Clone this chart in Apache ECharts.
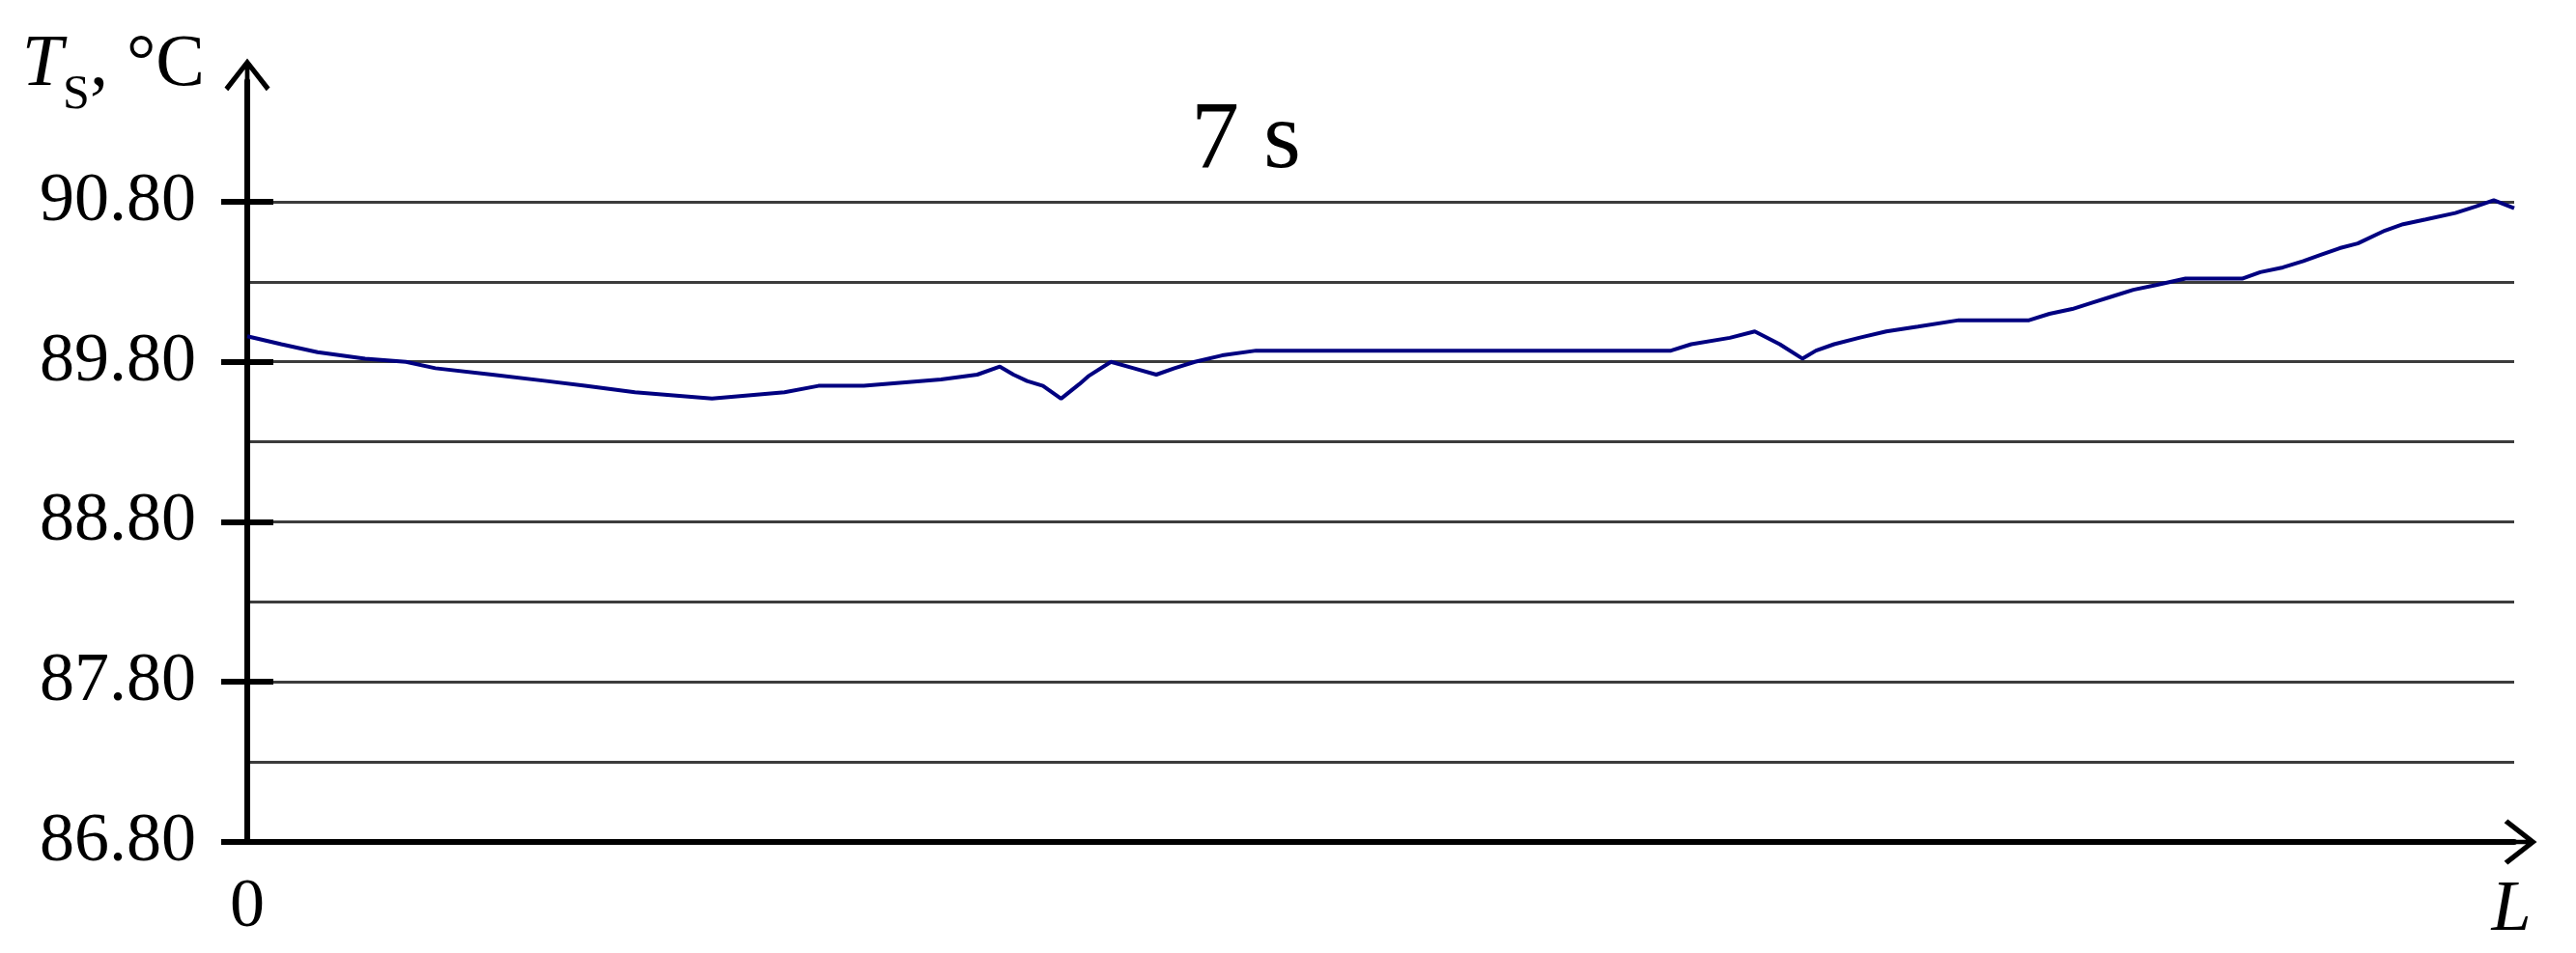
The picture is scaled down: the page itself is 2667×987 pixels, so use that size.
<!DOCTYPE html>
<html>
<head>
<meta charset="utf-8">
<script src="https://cdn.jsdelivr.net/npm/echarts@6/dist/echarts.min.js"></script>
<style>html,body{margin:0;padding:0;background:#fff;}#c{width:2667px;height:987px;}</style>
</head>
<body>
<div id="c"></div>
<script>
// Position along L, in percent of L
const positions = [0, 1.5, 3.1, 5.2, 7.0, 8.3, 10.8, 13.2, 14.9, 17.1, 20.5, 23.7, 25.2, 27.2, 30.6, 32.2, 33.2, 33.8, 34.4, 35.1, 35.9, 36.7, 37.1, 38.1, 39.1, 40.1, 40.9, 41.8, 43.0, 44.5, 62.8, 63.7, 65.4, 66.5, 67.6, 68.6, 69.2, 70.0, 71.1, 72.3, 73.7, 75.5, 78.6, 79.5, 80.5, 81.4, 82.3, 83.2, 84.2, 85.5, 88.0, 88.8, 89.8, 90.7, 91.5, 92.3, 93.1, 94.3, 95.1, 96.1, 97.4, 98.3, 99.1, 100];
// Surface temperature Ts, °C
const temperatures = [89.96, 89.91, 89.86, 89.82, 89.80, 89.76, 89.72, 89.68, 89.65, 89.61, 89.57, 89.61, 89.65, 89.65, 89.69, 89.72, 89.77, 89.72, 89.68, 89.65, 89.57, 89.66, 89.71, 89.80, 89.76, 89.72, 89.76, 89.80, 89.84, 89.87, 89.87, 89.91, 89.95, 89.99, 89.91, 89.82, 89.87, 89.91, 89.95, 89.99, 90.02, 90.06, 90.06, 90.10, 90.13, 90.17, 90.21, 90.25, 90.28, 90.32, 90.32, 90.36, 90.39, 90.43, 90.47, 90.51, 90.54, 90.62, 90.66, 90.69, 90.73, 90.77, 90.81, 90.76];
const yTickLabels = [86.8, 87.8, 88.8, 89.8, 90.8];
const gridValues = [86.8, 87.3, 87.8, 88.3, 88.8, 89.3, 89.8, 90.3, 90.8];
const titleText = '7 s';

const yMin = 86.8, yMax = 91.554, yStep = 0.1;
const arrowPath = 'path://M50 0 L100 64 L92 72 L55 24 L55 100 L45 100 L45 24 L8 72 L0 64 Z';
const serif = 'Liberation Serif';

const tickAxis = (inside) => ({
  type: 'value',
  position: 'left',
  min: yMin, max: yMax, interval: yStep,
  axisLine: {show: false},
  axisTick: {show: true, inside: inside, length: 27, lineStyle: {color: '#000', width: 6}, customValues: yTickLabels},
  axisLabel: {show: false},
  splitLine: {show: false}
});

const chart = echarts.init(document.getElementById('c'), null, {renderer: 'canvas'});
chart.setOption({
  backgroundColor: '#ffffff',
  animation: false,
  title: {
    text: titleText,
    left: 1228,
    top: 92,
    textStyle: {fontFamily: serif, fontSize: 100, fontWeight: 'normal', color: '#000'}
  },
  grid: {left: 256, right: 64, top: 84, bottom: 115, containLabel: false, outerBoundsMode: 'none'},
  xAxis: {
    type: 'value',
    min: 0, max: 100, interval: 100,
    name: 'L',
    nameLocation: 'end',
    nameGap: -3,
    nameMoveOverlap: false,
    nameTextStyle: {fontFamily: serif, fontStyle: 'italic', fontSize: 74, color: '#000', align: 'center', verticalAlign: 'top', lineHeight: 144},
    axisLine: {show: true, onZero: false, lineStyle: {color: '#000', width: 6}, symbol: ['none', arrowPath], symbolSize: [47, 62]},
    axisTick: {show: false},
    splitLine: {show: false},
    axisLabel: {
      margin: 32,
      fontFamily: serif, fontSize: 72, color: '#000',
      formatter: v => (v === 0 ? '0' : '')
    }
  },
  yAxis: [{
    type: 'value',
    min: yMin, max: yMax, interval: yStep,
    name: '{t|T}{s|S}{c|, °C}',
    nameLocation: 'end',
    nameGap: 14,
    nameMoveOverlap: false,
    nameTextStyle: {
      align: 'right', verticalAlign: 'middle', padding: [0, 44, 0, 0],
      rich: {
        t: {fontFamily: serif, fontStyle: 'italic', fontSize: 76, color: '#000', lineHeight: 80, verticalAlign: 'top'},
        s: {fontFamily: serif, fontSize: 50, color: '#000', lineHeight: 50, verticalAlign: 'top', padding: [44, 0, 0, 0]},
        c: {fontFamily: serif, fontSize: 76, color: '#000', lineHeight: 80, verticalAlign: 'top'}
      }
    },
    axisLine: {show: true, onZero: false, lineStyle: {color: '#000', width: 6}, symbol: ['none', arrowPath], symbolSize: [47, 62]},
    axisTick: {show: false, customValues: gridValues},
    axisLabel: {
      show: true, margin: 53, customValues: yTickLabels,
      fontFamily: serif, fontSize: 72, color: '#000',
      formatter: v => v.toFixed(2)
    },
    splitLine: {show: true, lineStyle: {color: '#3c3c3c', width: 3}}
  }, tickAxis(false), tickAxis(true)],
  series: [{
    type: 'line',
    yAxisIndex: 0,
    data: positions.map((p, i) => [p, temperatures[i]]),
    showSymbol: false,
    symbol: 'none',
    lineStyle: {color: '#000080', width: 4},
    z: 5
  }]
});
</script>
</body>
</html>
